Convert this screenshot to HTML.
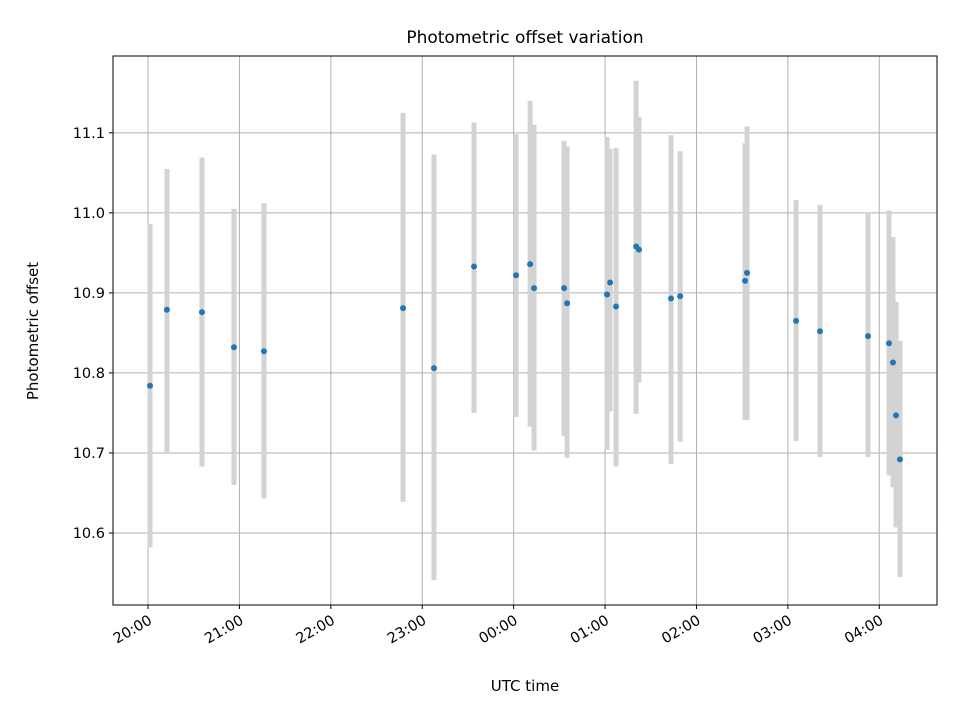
<!DOCTYPE html>
<html><head><meta charset="utf-8"><style>
body{margin:0;background:#fff;font-family:"Liberation Sans","DejaVu Sans",sans-serif;}
svg text{font-family:"DejaVu Sans","Liberation Sans",sans-serif;}
</style></head><body>
<svg id="chart" width="960" height="720" xmlns="http://www.w3.org/2000/svg">
<rect width="960" height="720" fill="#fff"/>
<text x="525" y="43" text-anchor="middle" font-size="17px">Photometric offset variation</text>
<g id="grid"></g><g id="bars"></g><g id="pts"></g><g id="ticks"></g>
<rect x="113" y="56" width="824" height="549" fill="none" stroke="#000" stroke-width="1"/>
<text x="525" y="691" text-anchor="middle" font-size="15px">UTC time</text>
<text transform="translate(38,331) rotate(-90)" text-anchor="middle" font-size="15px">Photometric offset</text>
</svg>
<script>
// minutes after 20:00 UTC
const times=[1.3,12.4,35.4,56.4,76.1,167.4,187.7,214.0,241.6,250.8,253.4,273.1,275.1,301.3,303.3,307.2,320.4,322.3,343.3,349.3,391.9,393.2,425.4,441.1,472.6,486.4,489.0,491.0,493.6];
const offsets=[10.784,10.879,10.876,10.832,10.827,10.881,10.806,10.933,10.922,10.936,10.906,10.906,10.887,10.898,10.913,10.883,10.958,10.954,10.893,10.896,10.915,10.925,10.865,10.852,10.846,10.837,10.813,10.747,10.692];
const errTop=[10.986,11.055,11.069,11.005,11.012,11.125,11.073,11.113,11.098,11.14,11.110,11.09,11.083,11.095,11.080,11.081,11.165,11.120,11.097,11.077,11.087,11.108,11.016,11.010,11.0,11.003,10.97,10.889,10.84];
const errBottom=[10.582,10.700,10.683,10.660,10.643,10.639,10.541,10.750,10.745,10.733,10.703,10.721,10.694,10.704,10.752,10.683,10.749,10.788,10.686,10.714,10.741,10.741,10.715,10.695,10.695,10.672,10.657,10.607,10.545];
const xTickMinutes=[0,60,120,180,240,300,360,420,480];
const xTickLabels=["20:00","21:00","22:00","23:00","00:00","01:00","02:00","03:00","04:00"];
const yTicks=[10.6,10.7,10.8,10.9,11.0,11.1];

const X0=113,X1=937,Y0=605,Y1=56,xmin=-23.0,xmax=517.9,ymin=10.51,ymax=11.196;
const sx=m=>X0+(m-xmin)/(xmax-xmin)*(X1-X0);
const sy=v=>Y0-(v-ymin)/(ymax-ymin)*(Y0-Y1);
const NS="http://www.w3.org/2000/svg";
function mk(tag,parent,attrs){const e=document.createElementNS(NS,tag);for(const k in attrs)e.setAttribute(k,attrs[k]);document.getElementById(parent).appendChild(e);return e;}
xTickMinutes.forEach((m,i)=>{
  const x=sx(m);
  let g=mk('line','grid',{x1:x,x2:x,y1:Y1,y2:Y0,stroke:'#b0b0b0','stroke-width':1});
  
  
  let t=mk('line','ticks',{x1:x,x2:x,y1:Y0,y2:Y0+4,stroke:'#000'});
  
  
  let l=mk('text','ticks',{transform:`translate(${x+5},${Y0+18}) rotate(-30)`,'text-anchor':'end','font-size':'14.5px'});
  l.textContent=xTickLabels[i];
  
  
});
yTicks.forEach(v=>{
  const y=sy(v);
  let g=mk('line','grid',{x1:X0,x2:X1,y1:y,y2:y,stroke:'#b0b0b0','stroke-width':1});
  
  
  let t=mk('line','ticks',{x1:X0-4,x2:X0,y1:y,y2:y,stroke:'#000'});
  
  
  let l=mk('text','ticks',{x:X0-8,y:y+5,'text-anchor':'end','font-size':'14.5px'});
  l.textContent=v.toFixed(1);
  
  
});
times.forEach((m,i)=>{
  const x=sx(m);
  let b=mk('line','bars',{x1:x,x2:x,y1:sy(errTop[i]),y2:sy(errBottom[i]),stroke:'#d3d3d3','stroke-width':5});
  
  
  let p=mk('circle','pts',{cx:x,cy:sy(offsets[i]),r:3,fill:'#1f77b4'});
  
  
});
</script>
</body></html>
